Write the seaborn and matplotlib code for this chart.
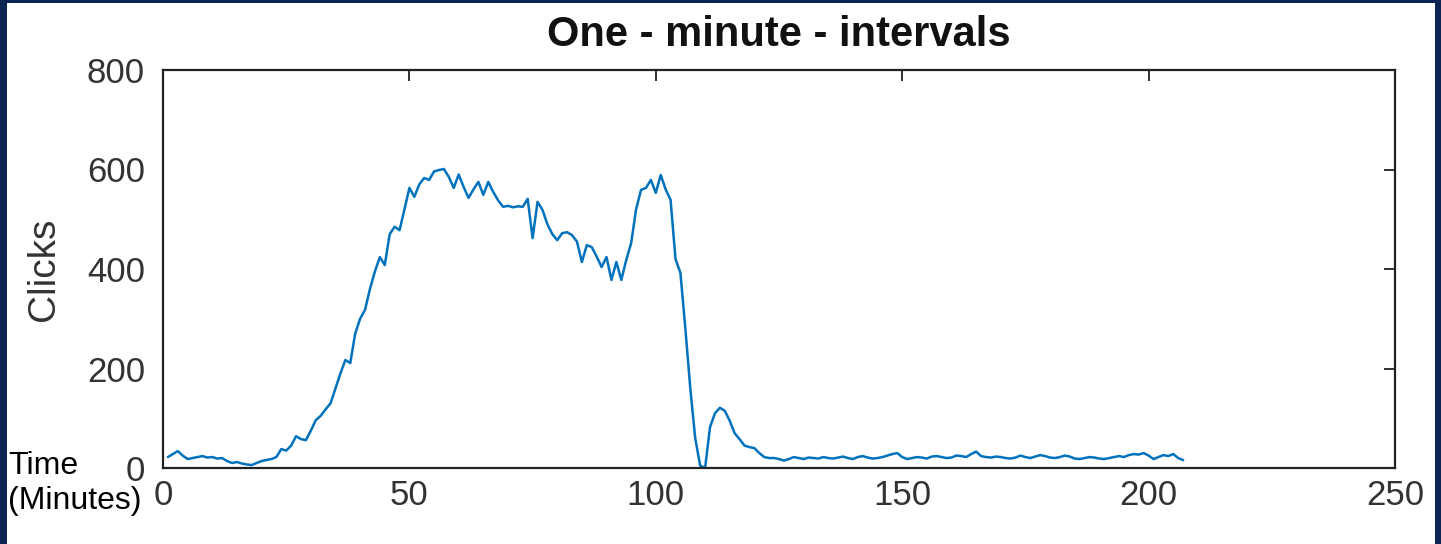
import numpy as np
import matplotlib.pyplot as plt
from matplotlib.patches import Rectangle
import seaborn as sns
import pandas as pd

# clicks per minute, minutes 1..207
clicks = [
    22, 28, 34, 25, 18, 20, 22, 24, 21, 22,
    19, 20, 14, 10, 12, 9, 7, 6, 10, 14,
    16, 18, 22, 38, 35, 45, 64, 58, 56, 75,
    96, 105, 118, 130, 160, 190, 217, 211, 270, 300,
    318, 360, 395, 424, 408, 470, 485, 478, 520, 563,
    545, 570, 583, 579, 596, 599, 601, 585, 563, 590,
    565, 543, 560, 575, 549, 575, 555, 538, 525, 527,
    524, 526, 525, 541, 462, 535, 519, 490, 470, 458,
    472, 474, 468, 455, 414, 448, 444, 425, 404, 424,
    378, 414, 378, 418, 452, 520, 559, 563, 579, 553,
    589, 560, 539, 420, 392, 280, 160, 60, 5, 0,
    82, 110, 121, 115, 95, 70, 58, 45, 42, 40,
    30, 22, 20, 20, 18,
    15, 18, 22, 20, 18, 21, 20, 19, 22, 20,
    19, 21, 23, 20, 18, 22, 24, 21, 19, 20,
    22, 25, 28, 30, 22, 18, 20, 22, 21, 19,
    23, 24, 22, 20, 21, 25, 24, 22, 28, 33,
    24, 22, 21, 23, 22, 20, 19, 21, 25, 22,
    20, 23, 26, 24, 21, 20, 22, 25, 23, 19,
    18, 20, 22, 21, 19, 18, 20, 22, 24, 22,
    26, 28, 27, 30, 25, 18, 22, 26, 24, 28,
    20, 16,
]
minutes = list(range(1, len(clicks) + 1))
x_ticks = [0, 50, 100, 150, 200, 250]
y_ticks = [0, 200, 400, 600, 800]

sns.set_style("white")
plt.rcParams["font.family"] = ["Liberation Sans", "DejaVu Sans"]

df = pd.DataFrame({"Minute": minutes, "Clicks": clicks})

fig = plt.figure(figsize=(14.41, 5.44), dpi=100, facecolor="#0c2451")
fig.add_artist(Rectangle((7 / 1441, 0), 1428 / 1441, 541 / 544,
                         transform=fig.transFigure, facecolor="white",
                         edgecolor="none", zorder=-1))
ax = fig.add_axes([163 / 1441, 76 / 544, 1232 / 1441, 398 / 544])

sns.lineplot(data=df, x="Minute", y="Clicks", ax=ax, color="#0072BD", linewidth=1.8)

ax.set_xlim(0, 250)
ax.set_ylim(0, 800)
ax.set_xticks(x_ticks)
ax.set_yticks(y_ticks)
ax.tick_params(direction="in", top=True, right=True, length=8, width=1.3,
               color="#222222", labelsize=25, labelcolor="#333333")
ax.tick_params(axis="x", pad=8)
ax.tick_params(axis="y", pad=13)
for s in ax.spines.values():
    s.set_color("#222222")
    s.set_linewidth(1.6)

ax.set_xlabel("")
ax.set_ylabel("Clicks", fontsize=28, color="#333333")
ax.yaxis.set_label_coords(-0.082, 0.5)
ax.set_title("One - minute - intervals", fontsize=30, fontweight="bold",
             color="#111111", pad=17)

# axis caption drawn as two lines, like the reference
fig.text(8 / 1441, 1 - 466 / 544, "Time", fontsize=23, color="black",
         ha="left", va="center")
fig.text(8 / 1441, 1 - 501 / 544, "(Minutes)", fontsize=23, color="black",
         ha="left", va="center")

fig.savefig("out.png", dpi=100, facecolor=fig.get_facecolor())
